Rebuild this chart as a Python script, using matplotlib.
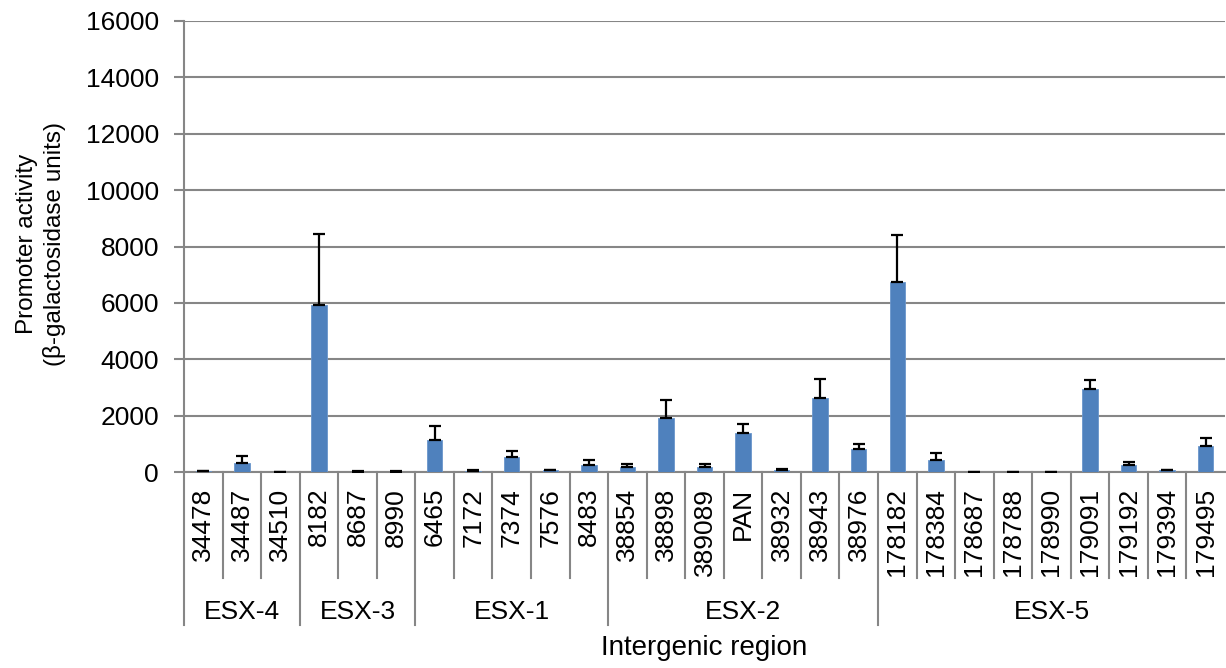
import matplotlib
matplotlib.use("Agg")
import matplotlib.pyplot as plt
import matplotlib.transforms as mtransforms

plt.rcParams['font.family'] = ['Liberation Sans', 'DejaVu Sans']

regions = ["34478", "34487", "34510", "8182", "8687", "8990",
           "6465", "7172", "7374", "7576", "8483",
           "38854", "38898", "389089", "PAN", "38932", "38943", "38976",
           "178182", "178384", "178687", "178788", "178990", "179091",
           "179192", "179394", "179495"]
activity = [20, 320, 5, 5930, 10, 10,
            1135, 40, 535, 60, 240,
            170, 1930, 170, 1400, 70, 2620, 810,
            6740, 440, 10, 5, 10, 2960,
            265, 60, 910]
errors = [10, 250, 3, 2520, 8, 8,
          510, 15, 210, 20, 200,
          100, 630, 120, 320, 20, 680, 200,
          1670, 250, 5, 3, 5, 300,
          75, 25, 300]
groups = ["ESX-4", "ESX-3", "ESX-1", "ESX-2", "ESX-5"]
group_sizes = [3, 3, 5, 7, 9]
yticks = [0, 2000, 4000, 6000, 8000, 10000, 12000, 14000, 16000]

W, H = 1226, 668
fig = plt.figure(figsize=(W / 100, H / 100), dpi=100)
ax = fig.add_axes([184 / W, 1 - 472 / H, (1225 - 184) / W, (472 - 21) / H])

grid_c = "#868686"
fs = 19
x = list(range(len(regions)))
ax.bar(x, activity, width=0.4, color="#4F81BD", edgecolor="#6A96CC",
       linewidth=0.6, zorder=3)
ax.errorbar(x, activity, yerr=[[0] * len(errors), errors], fmt="none",
            ecolor="black", elinewidth=1.6, capsize=4.5, capthick=1.6, zorder=4)

ax.set_xlim(-0.5, len(regions) - 0.5)
ax.set_ylim(0, 16000)
ax.set_yticks(yticks)
ax.set_yticklabels([str(v) for v in yticks], fontsize=fs)
ax.yaxis.grid(True, color=grid_c, linewidth=1.5, zorder=0)
ax.set_axisbelow(True)
ax.tick_params(axis="y", length=7, width=1.5, color=grid_c, pad=11)
ax.set_xticks([])
for s in ["top", "right"]:
    ax.spines[s].set_visible(False)
for s in ["left", "bottom"]:
    ax.spines[s].set_color(grid_c)
    ax.spines[s].set_linewidth(1.5)

trans = mtransforms.blended_transform_factory(ax.transData, ax.transAxes)

# Region labels and separators between categories
for i, name in enumerate(regions):
    ax.text(i, -0.035, name, rotation=90, ha="center", va="top",
            fontsize=fs, transform=trans)

bounds = [0]
for n in group_sizes:
    bounds.append(bounds[-1] + n)
group_edges = set(bounds)
for b in range(0, len(regions)):
    y_end = -0.339 if b in group_edges else -0.235
    ax.plot([b - 0.5, b - 0.5], [0, y_end], color=grid_c, linewidth=1.5,
            transform=trans, clip_on=False)

for g, lo, hi in zip(groups, bounds[:-1], bounds[1:]):
    ax.text((lo + hi - 1) / 2, -0.31, g, ha="center", va="center",
            fontsize=fs, transform=trans)

ax.text(0.5, -0.39, "Intergenic region", ha="center", va="center",
        fontsize=20, transform=ax.transAxes)
fig.text(41 / W, 1 - 244 / H, "Promoter activity\n(β-galactosidase units)",
         rotation=90, ha="center", va="center", fontsize=17.5,
         linespacing=1.3, multialignment="center")

fig.savefig("out.png", dpi=100)
